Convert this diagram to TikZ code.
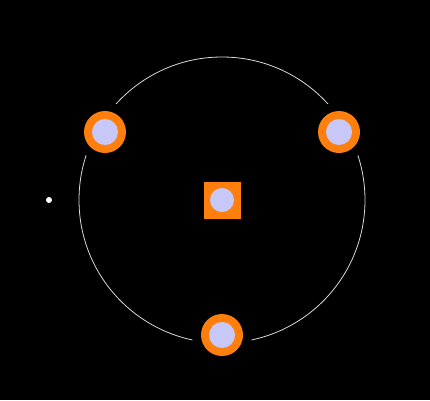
\documentclass[tikz,border=0pt]{standalone}
\begin{document}
\begin{tikzpicture}[x=1pt,y=-1pt,
  gap/.style={circle,fill=black,minimum size=60pt,inner sep=0pt},
  ringnode/.style={circle,fill=nodeorange,minimum size=42pt,inner sep=0pt},
  squarenode/.style={rectangle,fill=nodeorange,minimum size=37pt,inner sep=0pt},
  core/.style={circle,fill=nodelav,minimum size=26pt,inner sep=0pt},
  smallcore/.style={circle,fill=nodelav,minimum size=24pt,inner sep=0pt},
  dot/.style={circle,fill=white,minimum size=6pt,inner sep=0pt},
  orbit/.style={draw=white!85!black,line width=0.8pt}]
\definecolor{nodeorange}{HTML}{FF7F0E}
\definecolor{nodelav}{HTML}{C8C8F8}
\fill[black] (0,0) rectangle (430,400);
\useasboundingbox (0,0) rectangle (430,400);
\coordinate (c) at (222,200);
\draw[orbit] (c) circle[radius=143];
\node[gap] (g1) at (105,132) {};
\node[gap] (g2) at (339,132) {};
\node[gap] (g3) at (222,335) {};
\node[ringnode] (n1) at (105,132) {};
\node[ringnode] (n2) at (339,132) {};
\node[ringnode] (n3) at (222,335) {};
\node[core] (i1) at (n1) {};
\node[core] (i2) at (n2) {};
\node[core] (i3) at (n3) {};
\node[squarenode] (s) at (222,200) {};
\node[smallcore] (si) at (s) {};
\node[dot] (d) at (49,200) {};
\end{tikzpicture}
\end{document}
